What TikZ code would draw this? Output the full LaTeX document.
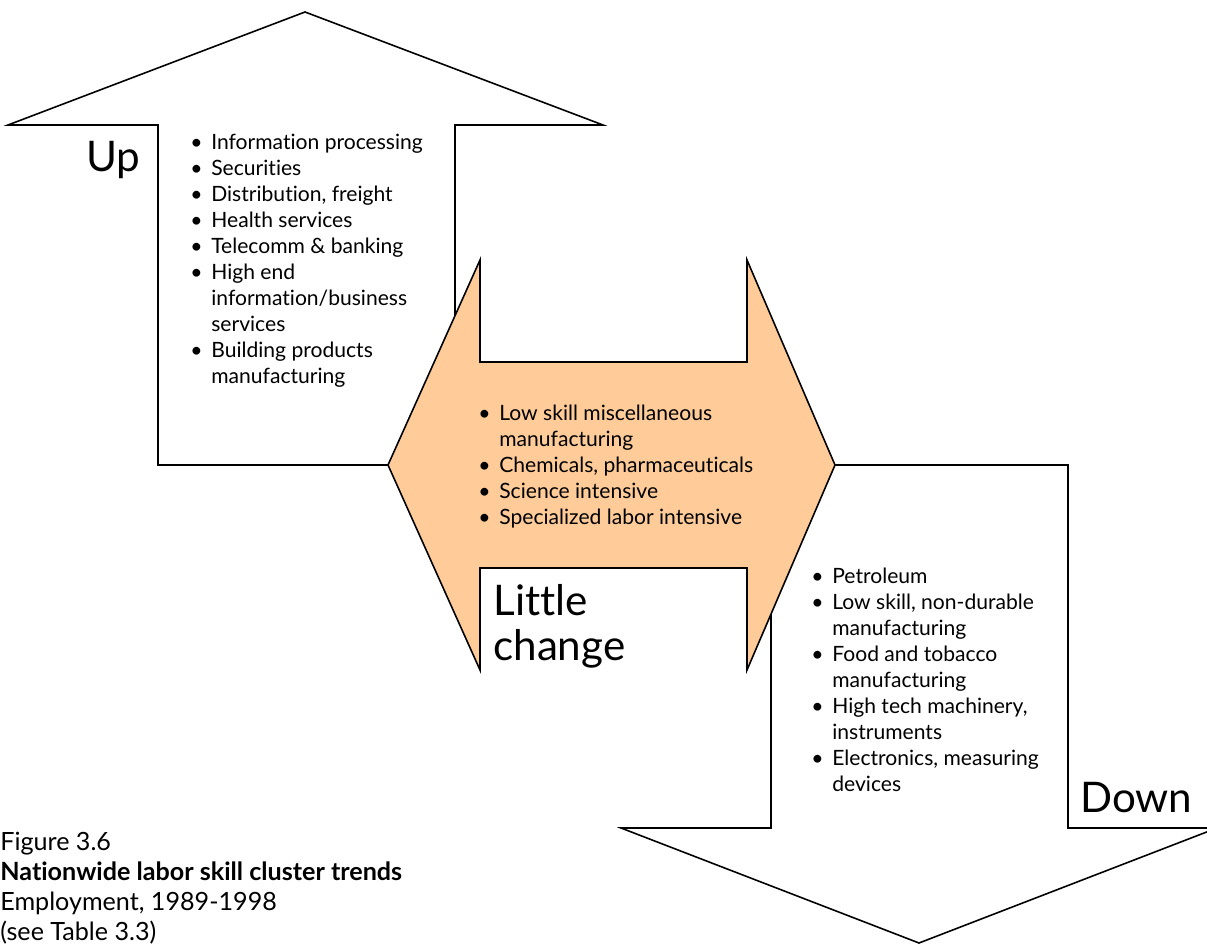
\documentclass[tikz,border=0pt]{standalone}
\usepackage{fontspec}
\setmainfont{Lato}[Ligatures=NoCommon]
\usepackage{tikz}

\begin{document}
\begin{tikzpicture}[x=0.02cm, y=-0.02cm]
    % Colour of the middle arrow
    \definecolor{peach}{RGB}{255,204,153}
    % Font sizes
    \newcommand{\listfont}{\fontsize{12}{14.8}\selectfont}
    \newcommand{\bigfont}{\fontsize{24}{25.6}\selectfont}
    \newcommand{\capfont}{\fontsize{14.3}{17}\selectfont}
    % Bullet and hanging indent
    \newcommand{\bul}{\makebox[0.42cm][l]{\textbullet}}
    \newcommand{\hang}{\hspace*{0.42cm}}
    % Shapes and texts
    \tikzstyle{arrowshape}=[draw=black, line width=0.9pt, line join=miter]
    \tikzstyle{itemlist}=[anchor=north west, inner sep=0, font=\listfont, align=left]
    \tikzstyle{bigword}=[anchor=base west, inner sep=0, font=\bigfont]

    \useasboundingbox (0,0) rectangle (1207,949);

    % Up arrow
    \draw[arrowshape, fill=white] (305,12) -- (603,125) -- (455,125) -- (455,465)
      -- (158,465) -- (158,125) -- (8,125) -- cycle;
    % Down arrow
    \draw[arrowshape, fill=white] (771,465) -- (1068,465) -- (1068,828) -- (1217,828)
      -- (919,943) -- (621,828) -- (771,828) -- cycle;
    % Little change arrow
    \draw[arrowshape, fill=peach] (388,465) -- (480,260) -- (480,362) -- (747,362)
      -- (747,260) -- (835,465) -- (747,670) -- (747,568) -- (480,568)
      -- (480,670) -- cycle;

    % Up list
    \node[itemlist] (upList) at (190,134) {
      \bul Information processing\\
      \bul Securities\\
      \bul Distribution, freight\\
      \bul Health services\\
      \bul Telecomm \& banking\\
      \bul High end\\
      \hang information/business\\
      \hang services\\
      \bul Building products\\
      \hang manufacturing};
    % Little change list
    \node[itemlist] (midList) at (478,405) {
      \bul Low skill miscellaneous\\
      \hang manufacturing\\
      \bul Chemicals, pharmaceuticals\\
      \bul Science intensive\\
      \bul Specialized labor intensive};
    % Down list
    \node[itemlist] (downList) at (811,568) {
      \bul Petroleum\\
      \bul Low skill, non-durable\\
      \hang manufacturing\\
      \bul Food and tobacco\\
      \hang manufacturing\\
      \bul High tech machinery,\\
      \hang instruments\\
      \bul Electronics, measuring\\
      \hang devices};

    % Labels
    \node[bigword] (upLabel) at (86,172) {Up};
    \node[bigword, anchor=north west, align=left] (midLabel) at (493,584) {Little\\change};
    \node[bigword] (downLabel) at (1080,812) {Down};

    % Caption
    \node[anchor=north west, inner sep=0, font=\capfont, align=left] (caption) at (0,832) {
      Figure 3.6\\
      \textbf{Nationwide labor skill cluster trends}\\
      Employment, 1989-1998\\
      (see Table 3.3)};
\end{tikzpicture}
\end{document}
